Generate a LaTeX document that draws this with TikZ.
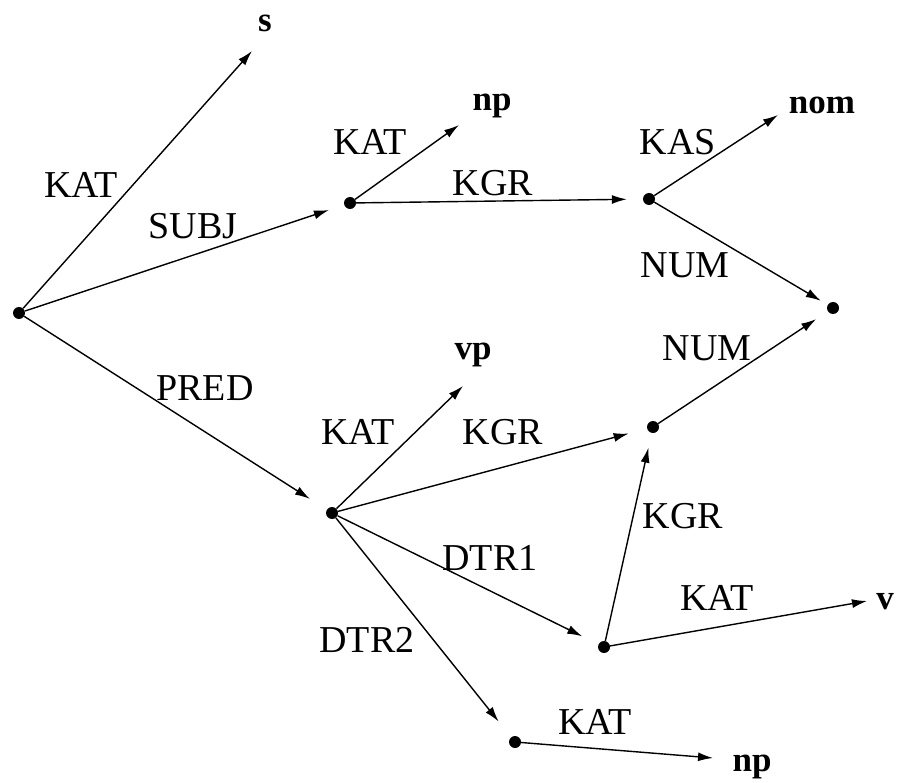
\documentclass[tikz,border=0pt]{standalone}
\usepackage{fontspec}
\setmainfont{Liberation Serif}
\usetikzlibrary{arrows.meta}
\begin{document}
\begin{tikzpicture}[x=1pt,y=-1pt,
  dot/.style={circle,fill=black,inner sep=0pt,minimum size=12pt},
  lab/.style={font=\fontsize{38}{44}\selectfont,inner sep=0pt},
  val/.style={font=\fontsize{35}{40}\selectfont\bfseries,inner sep=0pt},
  arr/.style={-{Latex[length=15pt,width=9pt]},line width=1.4pt},
]
\useasboundingbox[fill=white] (0,0) rectangle (899,783);
% dots
\node[dot] (root) at (19,313) {};
\node[dot] (subj) at (350,203) {};
\node[dot] (kgr) at (649,199) {};
\node[dot] (num) at (833,308) {};
\node[dot] (pred) at (332,513) {};
\node[dot] (kgrb) at (653,427) {};
\node[dot] (dtra) at (604,647) {};
\node[dot] (dtrb) at (515,742) {};
% values
\node[val] (s) at (265,23) {s};
\node[val] (npa) at (492,106) {np};
\node[val] (nom) at (822,105) {nom};
\node[val] (vp) at (473,355) {vp};
\node[val] (v) at (885,602) {v};
\node[val] (npb) at (752,767) {np};
% arrow tips
\coordinate (ts) at (252,51);
\coordinate (tnpa) at (459,125);
\coordinate (tnom) at (778,115);
\coordinate (tvp) at (463,386);
\coordinate (tv) at (867,601);
\coordinate (tnpb) at (713,758);
% edges
\draw[arr] (root) -- (ts);
\draw[arr,shorten >=16pt] (root) -- (subj);
\draw[arr,shorten >=20pt] (root) -- (pred);
\draw[arr] (subj) -- (tnpa);
\draw[arr,shorten >=16pt] (subj) -- (kgr);
\draw[arr] (kgr) -- (tnom);
\draw[arr,shorten >=8pt] (kgr) -- (num);
\draw[arr] (pred) -- (tvp);
\draw[arr,shorten >=19pt] (pred) -- (kgrb);
\draw[arr,shorten >=18pt] (pred) -- (dtra);
\draw[arr,shorten >=20pt] (pred) -- (dtrb);
\draw[arr,shorten >=14pt] (kgrb) -- (num);
\draw[arr,shorten >=15pt] (dtra) -- (kgrb);
\draw[arr] (dtra) -- (tv);
\draw[arr] (dtrb) -- (tnpb);
% edge labels
\node[lab] (l1) at (81,185) {KAT};
\node[lab] (l2) at (193,226) {SUBJ};
\node[lab] (l3) at (370,142) {KAT};
\node[lab] (l4) at (493,183) {KGR};
\node[lab] (l5) at (678,142) {KAS};
\node[lab] (l6) at (685,265) {NUM};
\node[lab] (l7) at (707,348) {NUM};
\node[lab] (l8) at (205,388) {PRED};
\node[lab] (l9) at (358,432) {KAT};
\node[lab] (l10) at (503,432) {KGR};
\node[lab] (l11) at (683,516) {KGR};
\node[lab] (l12) at (490,558) {DTR1};
\node[lab] (l13) at (717,598) {KAT};
\node[lab] (l14) at (367,640) {DTR2};
\node[lab] (l15) at (595,722) {KAT};
\end{tikzpicture}
\end{document}
